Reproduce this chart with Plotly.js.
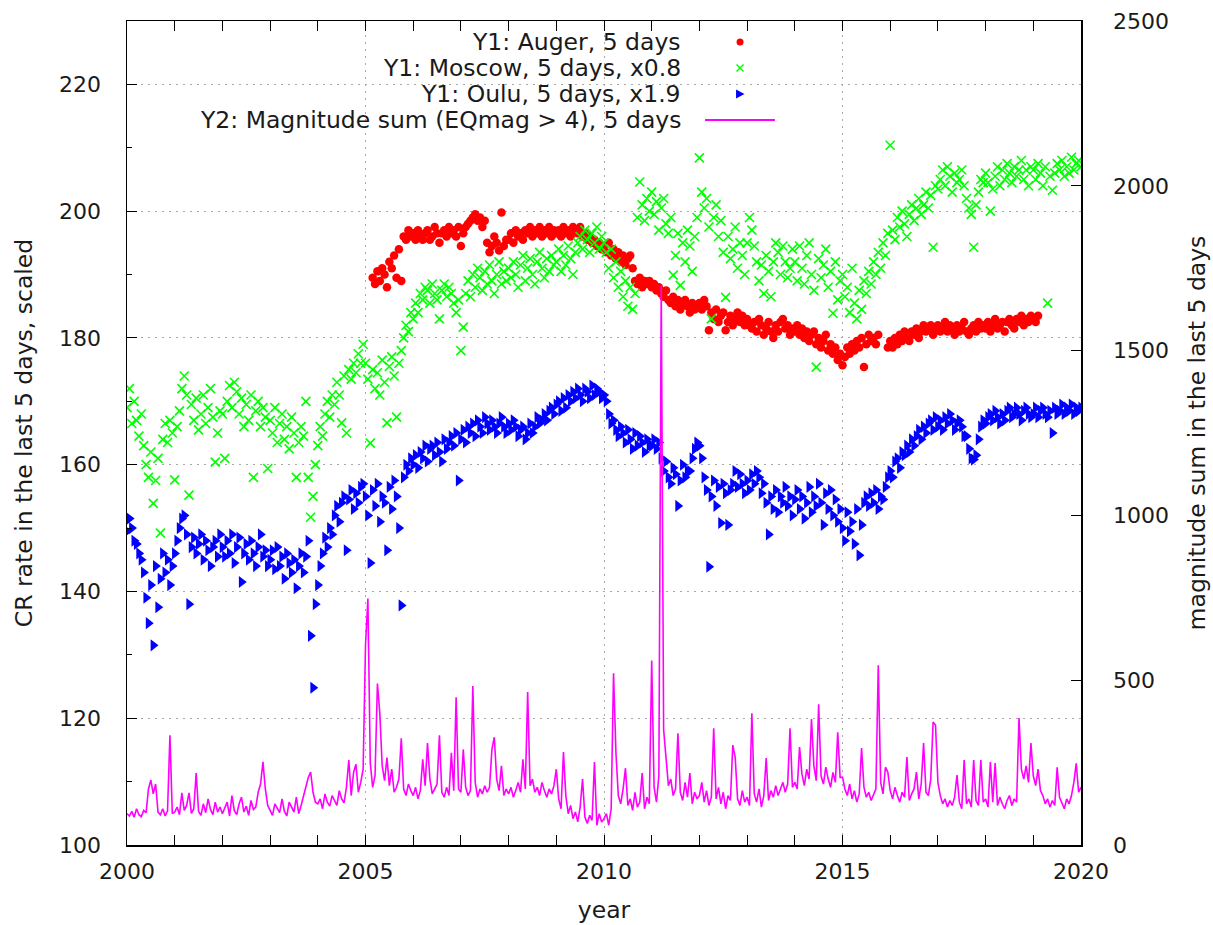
<!DOCTYPE html>
<html><head><meta charset="utf-8">
<script src="https://cdn.plot.ly/plotly-3.0.1.min.js"></script>
<style>html,body{margin:0;padding:0;background:#fff}#chart{width:1213px;height:925px}</style>
</head><body><div id="chart"></div>
<script>
// 5-day bins, sampled every 0.05 year
const binStep = 0.05;
const firstYear = 2000.0;
const augerFirstYear = 2005.15;

const seriesNames = ["Y1: Auger, 5 days", "Y1: Moscow, 5 days, x0.8", "Y1: Oulu, 5 days, x1.9", "Y2: Magnitude sum (EQmag > 4), 5 days"];
const xTickYears = [2000, 2005, 2010, 2015, 2020];
const xTitle = "year";
const y1Title = "CR rate in the last 5 days, scaled";
const y2Title = "magnitude sum in the last 5 days";

// Auger (starts 2005.15)
const augerRate = [
189.5,188.5,190.5,189,191,190,188,192,191,193,189.5,194,189,196,195.5,197,196,
196.5,195.5,197,196,195.5,196.5,197,195.5,196,197.5,196.5,195,196.5,197,196,197.5,196.5,197,196,197.5,
194.5,196.5,197.5,198,198.5,199,199.5,198.5,199,197.5,198.5,195,193.5,194.5,196,195,193.8,199.8,194.5,195.5,
195.5,196.5,195,197,196,196.5,195.5,197,196.5,197.5,196,197,196.5,197.5,196,197,196.5,197.5,196,197,
196.5,197,196,197.5,196.5,197,196,197.5,197,196.5,197.5,196,196.5,195.5,196,195,195.5,194.5,195,194,
194.5,193.5,195,193,194,192.5,193.5,192,193,191.5,192.5,193,191,189,188.5,189.5,188,189,188.5,189,
188,188.5,187.5,188,187,186.5,187.5,186,185.5,186.5,185,186,184.5,185.5,186,185,184,185.5,184.5,185,
185.5,184.5,186,185,181.2,184,183,184.5,182.5,183.5,184,181.2,182.5,183.5,182,183,184,182.5,183.5,182,
183,182,181.5,182.5,181,183,182,180.5,181.5,182.5,181,180,182,181,182.5,183,181.5,182,180.5,181.5,
181,182,180.5,181.5,180,181,179.5,180.5,181,179,180,178.5,179.5,180.5,178,179,177.5,178.5,176.5,177.5,
175.7,177,178.5,177.5,179,178,179.5,178.5,180,175.4,179,180.5,179.5,180,179,180.5,null,null,null,178.5,
179.5,178.5,180,179,180.5,179.5,181,180,179.5,181,180.5,181.5,180,181,182,181,181.5,182,180.5,181.5,
182,181,181.5,182.5,181,182,181.5,180.5,182,181,181.5,182.5,181,180.5,181.5,182,181,182.5,181.5,182,
181.5,182.5,181,182,183,181.5,182,182.5,181,182.5,183,182,181.5,183,182.5,183.5,182,183,182.5,183.5,
183,182.5,183.5
];

// Moscow x0.8 (2000.00 .. 2020.00)
const moscowRate = [
169,172,166.5,170,167,164.5,168,163,160,158,162,153.9,157.5,161,149.2,164,166.5,163.5,167,165,
157.6,166,168.5,172,174,171,155.2,169.5,167,170.5,165.5,168,171,166.5,169,172,167.5,160.4,165,168.5,
168,161,170,172.5,169,173,171.5,168,170.5,166,169.5,167,171,158,168.5,170,166,169,167.5,159.4,
167,165,169,163.5,166.5,168,164,166,162.5,167.5,165,158,163.5,166,164.5,170,158,151.7,155,160,
163,166,164.5,168,170,167.5,171,169.5,173,171,166.6,174,165,175,173.5,176,174.5,177.5,176,179,
176,173.5,163.4,175,172,174.5,171,176.5,173,166.6,175.5,177,174,167.5,176,178,180,182,181,184,
183,185.5,184,187,186,188,187.5,185.5,188.5,187,186,183,187.5,188.5,186.5,188,187,185.5,184,186,
178,181.7,187,189,186.5,190,188,191,189.5,187.5,190.5,188.5,191.5,189,187,190,192,188.5,190.5,189,
191,189.5,192,190,188,191.5,193,189,191,192.5,190,188.5,192,193.5,191,189.5,192.5,190.5,193,191.5,
192,194,190.5,193,191.5,194.5,192.5,190,193.5,195,196,194,197,195.5,193.5,196.5,195,197.5,194,196,
195,193.5,191,194,189.5,192,188,190.5,186.5,189,185,188,184.5,187,199,204.6,201,198.5,202,200,
203,199.5,201.5,197,200.5,202,198,196.5,199,189.9,193,196.5,188.3,195,192,197,194.5,190.5,196,199,
208.4,203,200.5,202,197.5,183,199,201,196,198.5,193.5,186.4,196,192.5,194,197.5,191,195,193,190,
195,199,197,194.5,192,189,191.5,187,193,190.5,186.5,192,195,193.5,190,194.5,192,189.5,191,194,
192,189,194.5,191,188.5,193,195,190,187.5,175.4,192.5,189.5,191.5,194,188,190.5,183.9,192,186,189,
190,186.5,188,184,191,185.5,183,187.5,184.5,189,187,190.5,188.5,192,190,193.5,191,195,193,196.5,
210.4,197,195.5,199,197.5,200,198,196,199.5,201,198.5,200.5,202,199.5,201,203,200.5,202.5,194.3,204,
203.5,205,206.5,204,207,205.5,203,206,204.5,205,206.5,204,202,200.5,199.5,194.3,201,203,205,204.5,
206,204.5,200,203.5,205.5,207,204,206.5,205,207.5,206,204.5,207,205.5,206.5,208,205,206.5,204,207,
206.5,205,207.5,206,204,207,185.5,205.5,203.3,206,207.5,206.5,208,205.5,207,206,208.5,206.5,207.5,208,
207
];

// Oulu x1.9 (2000.00 .. 2020.00)
const ouluRate = [
149.5,151.5,150,148,147.5,146,145,143,139,135,141,131.5,144,137.5,142,146,143,145,141,144,
146,148,150,151.5,152,149,138,147,148.5,146,147.5,149,145,148,146.5,144,147,148,145.5,149,
147,145.5,148,146,149,144.5,147,148.5,141.5,146,147.5,145,148,146,144,147,149,145.5,146.5,144,
145,146.5,143.5,147,144,145.5,142,146,144.5,143,145,140.5,144,146,143,145.5,148,133,124.8,138,
141,144,146,148.5,147,150,149,152,153.5,151,154,155,146.5,154.5,156,153,155.5,154,156.5,157,
155,152,144.5,156,153.5,157,151,155,154,146.5,156.5,153,157.5,155,150,137.8,158,160,159,161,
160,161.5,159.5,162,161,163,160.5,162.5,163,161.5,163.5,162,160.5,164,162.5,163.5,164.5,163,165,157.5,
164,165.5,163.5,166,165,166.5,164.5,167,166,165,167.5,166.5,165.5,167,166,165,166.5,167.5,166,165,
166.5,165.5,167,166,164.5,165.5,166,164,165,166.5,165,166,167.5,166.5,167,168,167,168.5,169,168,
169.5,170,168.5,170.5,169,171,170,171.5,170.5,172,171,170,172,171.5,170.5,172.5,171,172,171.5,170.5,
171,170,168,166.5,167,165.5,164.5,166,165,163.5,165.5,164,162.5,165,163,164.5,163.5,162,164,163,
163,164,162.5,163.5,161,159,160.5,158,157,159.5,158.5,153.5,157.5,160,158,159,159,161,162.5,163.5,
163,161,158,156,143.9,155,157.5,153.5,156.5,150.8,157,155.5,150.5,156,157,159,156.5,158.5,157,155.5,
157.5,156,158.5,157,159,158,155.5,157,154,149,155,153,156,152.5,155,154,156.5,153.5,155,152,
154.5,156,153,155,151.5,154,156.5,152.5,155,153.5,157,154,150.5,155.5,153,156,152,154.5,151,153,
150,148,152.5,149.5,151,147.5,153,145.7,150.5,154,155,153.5,155.5,154,156,153,155,154.5,156.5,158,
159,158,160.5,161,159.5,162,161.5,163,162,164,163,164.5,165.5,164,166,165,166.5,167,165.5,167.5,
166,167,165.5,167.5,166.5,168,167,165.5,166.5,167,166,164.5,164.5,162.5,161,160.8,161.5,164,166,167,
166.5,167.5,168,167,168.5,167.5,166.5,168,167,168.5,169,167.5,168,169,168,167,168.5,169,168,167.5,
168,169,167.5,168.5,169,168,167.5,168.5,165,169,168,168.5,169.5,168,169,168.5,169.5,168,169,168.5,
169
];

// Magnitude sum, EQmag > 4 (2000.00 .. 2020.00)
const magnitudeSum = [
95,88,102,84,110,92,86,105,98,170,197,155,185,100,92,110,88,104,333,95,
100,115,92,158,105,120,158,96,110,218,102,90,125,98,140,108,92,130,100,115,
95,110,130,88,150,104,92,125,145,100,118,90,135,108,115,160,185,252,170,120,
105,90,125,112,98,140,102,88,130,115,100,145,95,120,150,180,205,221,160,130,
125,140,110,155,130,118,150,135,120,165,140,128,175,258,150,220,245,160,190,230,
606,748,250,175,210,490,400,240,195,265,180,230,160,175,200,324,170,150,185,165,
150,175,140,165,260,180,309,200,155,170,185,333,160,145,175,150,280,165,448,170,
160,290,175,150,165,482,190,145,170,155,180,160,175,290,327,200,165,240,150,170,
155,175,145,165,190,160,260,170,464,180,200,160,175,150,190,165,145,170,155,180,
230,140,110,282,150,95,120,80,100,70,115,200,85,65,90,75,252,60,95,70,
80,95,60,110,521,280,150,125,170,233,120,140,105,160,115,130,218,110,145,125,
560,175,130,210,1697,350,260,180,200,150,170,339,160,135,190,145,218,125,160,140,
150,190,130,165,120,145,354,140,175,125,160,110,150,135,303,267,140,120,165,130,
145,120,400,155,130,170,115,150,264,135,165,145,180,150,170,190,160,185,354,175,
190,170,297,215,180,230,200,382,240,195,427,210,185,236,200,175,220,190,342,205,
206,170,150,185,140,165,130,155,294,175,145,160,135,150,170,545,190,155,236,221,
165,140,175,150,130,160,145,267,135,155,170,221,140,185,309,160,150,200,373,364,
190,150,125,140,115,135,120,145,212,130,110,258,125,140,115,258,135,120,258,130,
140,115,252,130,249,120,145,125,110,135,150,120,140,130,385,230,200,240,190,309,
210,180,230,165,150,125,140,115,135,120,236,145,130,110,140,125,150,190,248,160,
175
];

function binYears(start, n) {
  return Array.from({length: n}, (_, i) => +(start + i * binStep).toFixed(2));
}

const FONT = "DejaVu Sans";
const TXT = "#1a1a1a";

const traces = [
  {x: binYears(augerFirstYear, augerRate.length), y: augerRate, name: seriesNames[0], type: "scatter", mode: "markers",
   marker: {symbol: "circle", size: 8.5, color: "#ff0000", line: {width: 0}}, yaxis: "y"},
  {x: binYears(firstYear, moscowRate.length), y: moscowRate, name: seriesNames[1], type: "scatter", mode: "markers",
   marker: {symbol: "x-thin", size: 9, color: "#00ff00", line: {color: "#00ff00", width: 1.6}}, yaxis: "y"},
  {x: binYears(firstYear, ouluRate.length), y: ouluRate, name: seriesNames[2], type: "scatter", mode: "markers",
   marker: {symbol: "triangle-right", size: 10.5, color: "#0000ff", line: {width: 0}}, yaxis: "y"},
  {x: binYears(firstYear, magnitudeSum.length), y: magnitudeSum, name: seriesNames[3], type: "scatter", mode: "lines",
   line: {color: "#ff00ff", width: 1.6}, yaxis: "y2"}
];

// legend (gnuplot style: text right-aligned, sample to the right)
const legRowsY = [0.9745, 0.9430, 0.9114, 0.8799];
const legTextX = 0.5828, legSymX = 0.6426;
const annotations = seriesNames.map((t, i) => ({
  text: t, xref: "paper", yref: "paper", x: legTextX, y: legRowsY[i], xanchor: "right", yanchor: "middle",
  showarrow: false, font: {family: FONT, size: 23.5, color: TXT}
}));
const shapes = [
  {type: "circle", xref: "paper", yref: "paper", xsizemode: "pixel", ysizemode: "pixel", xanchor: legSymX, yanchor: legRowsY[0],
   x0: -3.5, x1: 3.5, y0: -3.5, y1: 3.5, fillcolor: "#ff0000", line: {width: 0}},
  {type: "path", xref: "paper", yref: "paper", xsizemode: "pixel", ysizemode: "pixel", xanchor: legSymX, yanchor: legRowsY[1],
   path: "M-3.5,-3.5L3.5,3.5M-3.5,3.5L3.5,-3.5", line: {color: "#00ff00", width: 1.5}},
  {type: "path", xref: "paper", yref: "paper", xsizemode: "pixel", ysizemode: "pixel", xanchor: legSymX, yanchor: legRowsY[2],
   path: "M-4,-4.5L4.5,0L-4,4.5Z", fillcolor: "#0000ff", line: {width: 0}},
  {type: "line", xref: "paper", yref: "paper", x0: 0.6059, x1: 0.6792, y0: legRowsY[3], y1: legRowsY[3],
   line: {color: "#ff00ff", width: 2}}
];

const axisCommon = {
  showline: true, linecolor: "#000", linewidth: 1.5, ticks: "inside", ticklen: 10, tickwidth: 1, tickcolor: "#000",
  zeroline: false, tickfont: {family: FONT, size: 22, color: TXT}
};
const GRID = {showgrid: true, gridcolor: "#a8a8a8", griddash: "2px,5px", gridwidth: 1};

const layout = {
  width: 1213, height: 925,
  margin: {l: 127, r: 132, t: 21, b: 80},
  paper_bgcolor: "#fff", plot_bgcolor: "#fff",
  showlegend: false,
  font: {family: FONT, size: 22, color: TXT},
  xaxis: Object.assign({}, axisCommon, GRID, {
    range: [2000, 2020], tickmode: "array", tickvals: xTickYears, ticktext: xTickYears.map(String),
    mirror: "allticks",
    minor: {dtick: 1, tick0: 2000, ticks: "inside", ticklen: 5, tickcolor: "#000", showgrid: false},
    ticklabelstandoff: 6,
    title: {text: xTitle, font: {family: FONT, size: 23.5, color: TXT}, standoff: 18}
  }),
  yaxis: Object.assign({}, axisCommon, GRID, {
    range: [100, 230], tick0: 100, dtick: 20, mirror: true,
    minor: {dtick: 10, tick0: 100, ticks: "inside", ticklen: 5, tickcolor: "#000", showgrid: false},
    ticklabelstandoff: 20,
    title: {text: y1Title, font: {family: FONT, size: 23.5, color: TXT}, standoff: 20}
  }),
  yaxis2: Object.assign({}, axisCommon, {
    range: [0, 2500], tick0: 0, dtick: 500, overlaying: "y", side: "right",
    showgrid: false, ticklabelstandoff: 26,
    title: {text: y2Title, font: {family: FONT, size: 23.5, color: TXT}, standoff: 20}
  }),
  annotations: annotations,
  shapes: shapes
};

Plotly.newPlot("chart", traces, layout, {displayModeBar: false, staticPlot: true});
</script>
</body></html>
